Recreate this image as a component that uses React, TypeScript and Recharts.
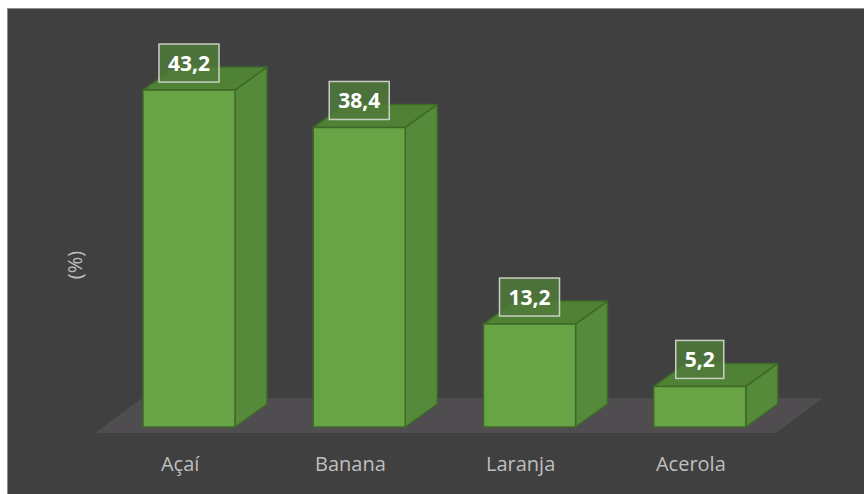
import { Bar, BarChart, LabelList, XAxis, YAxis, usePlotArea } from "recharts";

const categories = ["Açaí", "Banana", "Laranja", "Acerola"];
const values = [43.2, 38.4, 13.2, 5.2];
const valueLabels = ["43,2", "38,4", "13,2", "5,2"];

const data = categories.map((name, i) => ({
  name,
  value: values[i],
  label: valueLabels[i],
}));

// bar sits in the middle of the floor depth
const SHIFT_X = 9;
const SHIFT_Y = -6;
const DEPTH_X = 32;
const DEPTH_Y = 23;
const FONT = "'Open Sans', 'Noto Sans', sans-serif";

function Floor() {
  const plot = usePlotArea();
  if (!plot) return null;
  const bottom = plot.y + plot.height;
  const left = plot.x;
  const right = plot.x + plot.width;
  return (
    <g>
      <polygon
        fill="#4f4d50"
        points={`${left},${bottom} ${right},${bottom} ${right + 47},${bottom - 35} ${left + 47},${bottom - 35}`}
      />
      <text
        fill="#bfbfbf"
        fontFamily={FONT}
        fontSize={20}
        textAnchor="middle"
        dominantBaseline="central"
        transform={`translate(${left - 21},${bottom - 168}) rotate(-90)`}
      >
        (%)
      </text>
    </g>
  );
}

function Bar3D(props: any) {
  const { width: w, height: h } = props;
  const x = props.x + SHIFT_X;
  const y = props.y + SHIFT_Y;
  if (!(h > 0)) return null;
  const stroke = "#3e6a28";
  return (
    <g strokeLinejoin="round">
      <polygon
        fill="#548a39"
        stroke={stroke}
        strokeWidth={1.5}
        points={`${x + w},${y} ${x + w + DEPTH_X},${y - DEPTH_Y} ${x + w + DEPTH_X},${y + h - DEPTH_Y} ${x + w},${y + h}`}
      />
      <polygon
        fill="#4f8234"
        stroke={stroke}
        strokeWidth={1.5}
        points={`${x},${y} ${x + DEPTH_X},${y - DEPTH_Y} ${x + w + DEPTH_X},${y - DEPTH_Y} ${x + w},${y}`}
      />
      <rect
        x={x}
        y={y}
        width={w}
        height={h}
        fill="#68a345"
        stroke={stroke}
        strokeWidth={1.5}
      />
    </g>
  );
}

function ValueBox(props: any) {
  const { width: w, value } = props;
  const x = props.x + SHIFT_X;
  const y = props.y + SHIFT_Y;
  const text = String(value);
  const digits = text.replace(",", "").length;
  const boxW = digits * 12 + 6 + 18;
  const boxH = 38;
  const cx = x + w / 2;
  const top = y - 8 - boxH;
  return (
    <g>
      <rect
        x={cx - boxW / 2}
        y={top}
        width={boxW}
        height={boxH}
        fill="rgba(80,122,58,0.85)"
        stroke="#c9cfc4"
        strokeWidth={1.5}
      />
      <text
        x={cx}
        y={top + boxH / 2}
        fill="#ffffff"
        fontFamily={FONT}
        fontWeight={700}
        fontSize={21}
        textAnchor="middle"
        dominantBaseline="central"
      >
        {text}
      </text>
    </g>
  );
}

export default function App() {
  return (
    <div
      style={{
        position: "fixed",
        left: 7,
        top: 8,
        width: 857,
        height: 486,
        background: "#404040",
        borderTop: "1px solid #8c8c8c",
        borderLeft: "1px solid #8c8c8c",
        overflow: "hidden",
      }}
    >
      <BarChart
        width={857}
        height={486}
        data={data}
        margin={{ top: 34, right: 89, bottom: 0, left: 87 }}
      >
        <Floor />
        <XAxis
          dataKey="name"
          axisLine={false}
          tickLine={false}
          height={62}
          tickMargin={18}
          tick={{ fill: "#bfbfbf", fontSize: 20, fontFamily: FONT }}
        />
        <YAxis hide domain={[0, 50]} />
        <Bar
          dataKey="value"
          barSize={92}
          shape={Bar3D}
          isAnimationActive={false}
        >
          <LabelList dataKey="label" content={ValueBox} />
        </Bar>
      </BarChart>
    </div>
  );
}
